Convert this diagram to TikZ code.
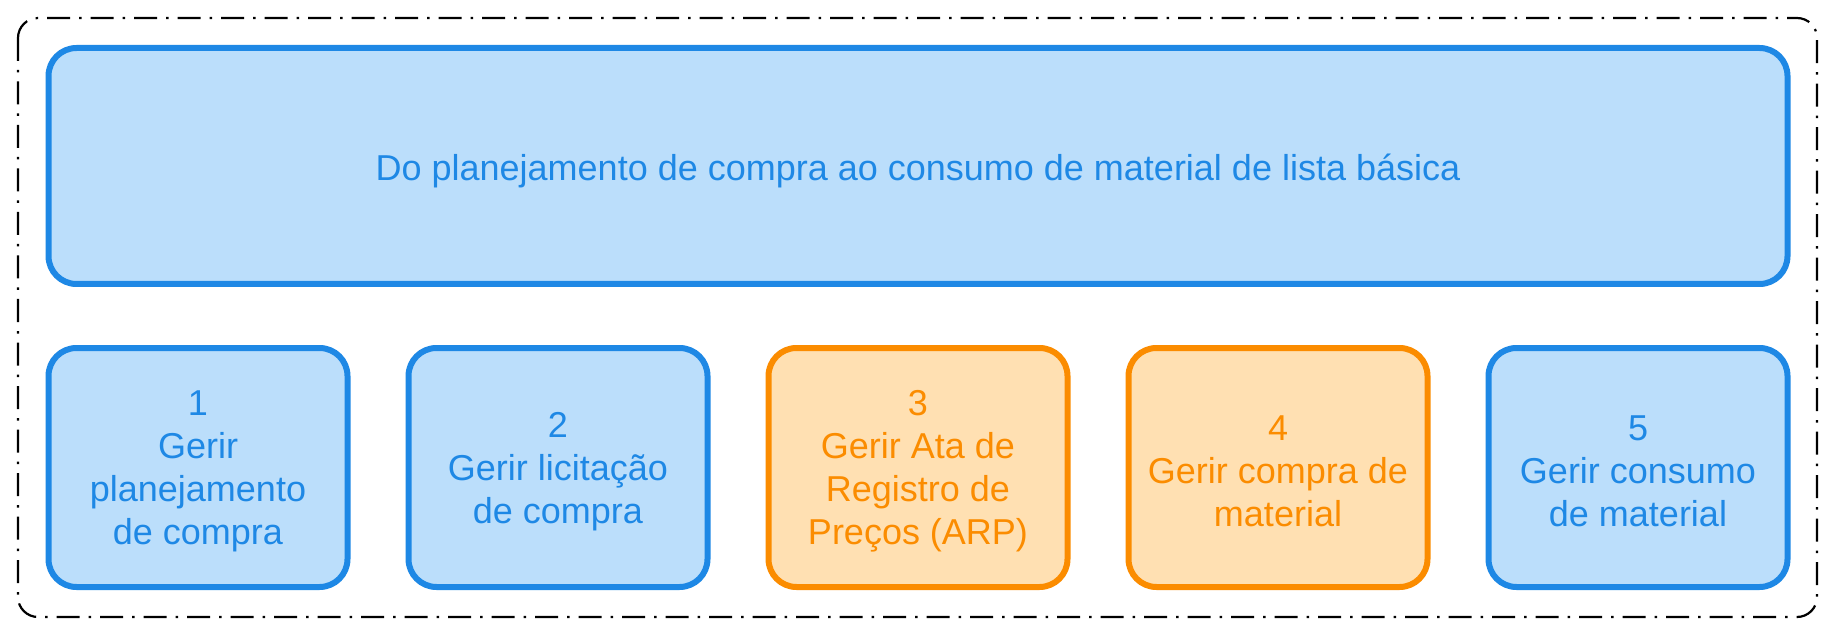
\documentclass[tikz,border=0pt]{standalone}
\usepackage{fontspec}
\setmainfont{Liberation Sans}
\definecolor{bstroke}{HTML}{1E88E5}
\definecolor{bfill}{HTML}{BBDEFB}
\definecolor{ostroke}{HTML}{FB8C00}
\definecolor{ofill}{HTML}{FFE0B2}
\begin{document}
\begin{tikzpicture}[x=1pt,y=-1pt,
  box/.style={draw, line width=6pt, rounded corners=28pt, inner sep=0pt},
  bluebox/.style={box, draw=bstroke, fill=bfill},
  orangebox/.style={box, draw=ostroke, fill=ofill},
  smallbox/.style={minimum width=299pt, minimum height=239pt},
  txt/.style={align=center, font=\fontsize{36}{43}\selectfont, inner sep=0pt},
  btxt/.style={txt, text=bstroke},
  otxt/.style={txt, text=ostroke}]
\useasboundingbox (0,0) rectangle (1836,636);
\fill[white] (0,0) rectangle (1836,636);
\draw[line width=2.2pt, rounded corners=20pt, dash pattern=on 23pt off 9pt on 2.5pt off 9pt]
  (18,18) rectangle (1817,617);
\node[bluebox, minimum width=1739pt, minimum height=236pt] (top) at (918,166) {};
\node[bluebox, smallbox] (b1) at (198,467.5) {};
\node[bluebox, smallbox] (b2) at (558,467.5) {};
\node[orangebox, smallbox] (b3) at (918,467.5) {};
\node[orangebox, smallbox] (b4) at (1278,467.5) {};
\node[bluebox, smallbox] (b5) at (1638,467.5) {};
\node[btxt] (ttop) at ([yshift=-4.5pt]top.center)
  {Do planejamento de compra ao consumo de material de lista básica};
\node[btxt] (t1) at ([yshift=-4pt]b1.center) {1\\Gerir\\planejamento\\de compra};
\node[btxt] (t2) at ([yshift=-4pt]b2.center) {2\\Gerir licitação\\de compra};
\node[otxt] (t3) at ([yshift=-4pt]b3.center) {3\\Gerir Ata de\\Registro de\\Preços (ARP)};
\node[otxt] (t4) at ([yshift=-4pt]b4.center) {4\\Gerir compra de\\material};
\node[btxt] (t5) at ([yshift=-4pt]b5.center) {5\\Gerir consumo\\de material};
\end{tikzpicture}
\end{document}
